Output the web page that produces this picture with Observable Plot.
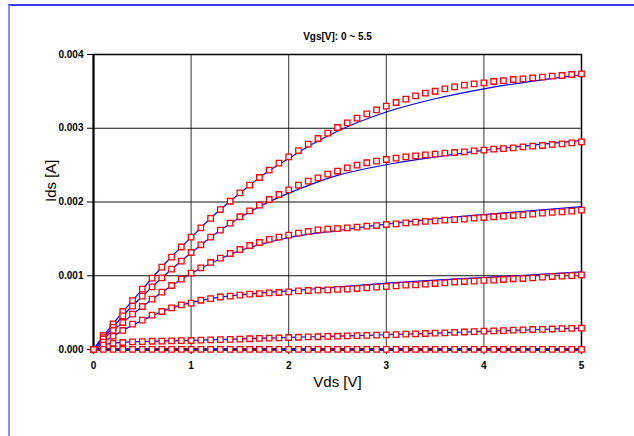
<!DOCTYPE html>
<html>
<head>
<meta charset="utf-8">
<script src="https://cdn.jsdelivr.net/npm/d3@7"></script>
<script src="https://cdn.jsdelivr.net/npm/@observablehq/plot@0.6"></script>
<style>
  html, body { margin: 0; padding: 0; background: #fff; }
  #wrap { position: relative; width: 634px; height: 436px; overflow: hidden; }
  #border { position: absolute; left: 8px; top: 4px; width: 640px; height: 440px;
            border-top: 2px solid #3a3aff; border-left: 2px solid #8c8cff; box-sizing: border-box; }
  #chart { position: absolute; left: 0; top: 0; }
</style>
</head>
<body>
<div id="wrap"><div id="border"></div><div id="chart"></div></div>
<script>
// Vds sweep [V]
const vds = [0,0.1,0.2,0.3,0.4,0.5,0.6,0.7,0.8,0.9,1.0,1.1,1.2,1.3,1.4,1.5,1.6,1.7,1.8,1.9,2.0,2.1,2.2,2.3,2.4,2.5,2.6,2.7,2.8,2.9,3.0,3.1,3.2,3.3,3.4,3.5,3.6,3.7,3.8,3.9,4.0,4.1,4.2,4.3,4.4,4.5,4.6,4.7,4.8,4.9,5.0];

// Measured Ids [mA] (red squares), one array per Vgs step
const meas1 = [0,0.19,0.348,0.515,0.664,0.818,0.967,1.116,1.252,1.39,1.523,1.65,1.778,1.898,2.01,2.125,2.228,2.332,2.431,2.526,2.613,2.698,2.784,2.861,2.933,3.01,3.074,3.137,3.196,3.25,3.299,3.349,3.394,3.44,3.475,3.502,3.535,3.562,3.584,3.603,3.616,3.634,3.647,3.661,3.67,3.684,3.692,3.706,3.715,3.729,3.738];
const meas2 = [0,0.16,0.30,0.457,0.588,0.723,0.85,0.972,1.089,1.197,1.315,1.42,1.525,1.618,1.713,1.8,1.88,1.957,2.034,2.102,2.165,2.228,2.282,2.328,2.377,2.42,2.464,2.499,2.532,2.553,2.576,2.594,2.613,2.626,2.64,2.648,2.662,2.671,2.681,2.694,2.703,2.716,2.725,2.735,2.748,2.757,2.766,2.78,2.789,2.803,2.816];
const meas3 = [0,0.14,0.258,0.366,0.479,0.583,0.682,0.777,0.868,0.953,1.035,1.108,1.18,1.238,1.302,1.356,1.41,1.451,1.492,1.523,1.55,1.577,1.6,1.623,1.631,1.638,1.65,1.659,1.672,1.681,1.695,1.704,1.718,1.727,1.736,1.745,1.753,1.761,1.767,1.78,1.79,1.8,1.808,1.817,1.826,1.835,1.848,1.858,1.867,1.876,1.889];
const meas4 = [0,0.10,0.18,0.258,0.343,0.397,0.465,0.515,0.565,0.606,0.63,0.668,0.69,0.712,0.723,0.736,0.75,0.759,0.769,0.773,0.782,0.796,0.8,0.804,0.809,0.816,0.818,0.827,0.837,0.845,0.854,0.864,0.872,0.877,0.886,0.895,0.904,0.915,0.922,0.926,0.936,0.94,0.949,0.959,0.963,0.972,0.981,0.99,0.994,1.003,1.013];
const meas5 = [0,0.06,0.085,0.095,0.104,0.108,0.112,0.114,0.117,0.12,0.122,0.126,0.13,0.135,0.138,0.142,0.146,0.15,0.154,0.158,0.163,0.166,0.17,0.173,0.177,0.18,0.184,0.188,0.191,0.195,0.199,0.203,0.208,0.212,0.217,0.221,0.226,0.231,0.237,0.242,0.248,0.252,0.257,0.262,0.266,0.271,0.274,0.278,0.282,0.286,0.289];
const meas6 = [0,0.002,0.002,0.002,0.002,0.002,0.002,0.002,0.002,0.002,0.002,0.002,0.002,0.002,0.002,0.002,0.002,0.002,0.002,0.002,0.002,0.002,0.002,0.002,0.002,0.002,0.002,0.002,0.002,0.002,0.002,0.002,0.002,0.002,0.002,0.002,0.002,0.002,0.002,0.002,0.002,0.002,0.002,0.002,0.002,0.002,0.002,0.002,0.002,0.002,0.002];

// Model Ids [mA] (blue lines)
const modelVds = [0,0.1,0.2,0.3,0.5,0.75,1,1.25,1.5,1.75,2,2.25,2.5,3,3.5,4,4.5,5];
const model1 = [0,0.18,0.345,0.51,0.815,1.19,1.52,1.84,2.12,2.38,2.59,2.79,2.96,3.22,3.40,3.535,3.64,3.725];
const model2 = [0,0.16,0.30,0.455,0.72,1.03,1.31,1.57,1.79,1.97,2.12,2.25,2.36,2.505,2.61,2.70,2.77,2.834];
const model3 = [0,0.14,0.257,0.365,0.58,0.82,1.03,1.2,1.34,1.44,1.515,1.57,1.612,1.699,1.77,1.83,1.885,1.935];
const model4 = [0,0.10,0.18,0.258,0.395,0.54,0.635,0.70,0.74,0.77,0.795,0.82,0.845,0.90,0.94,0.975,1.012,1.053];
const model5 = [0,0.06,0.085,0.097,0.108,0.116,0.124,0.133,0.143,0.153,0.164,0.173,0.182,0.20,0.222,0.246,0.268,0.29];
const model6 = [0,0.002,0.002,0.002,0.002,0.002,0.002,0.002,0.002,0.002,0.002,0.002,0.002,0.002,0.002,0.002,0.002,0.002];

const xTicks = [0,1,2,3,4,5];
const yTicks = [0,1,2,3,4];

const measSeries = [meas1, meas2, meas3, meas4, meas5, meas6];
const modelSeries = [model1, model2, model3, model4, model5, model6];
const measured = measSeries.flatMap((arr, s) => arr.map((v, i) => ({s, x: vds[i], y: v})));
const model = modelSeries.flatMap((arr, s) => arr.map((v, i) => ({s, x: modelVds[i], y: v})));

const chart = Plot.plot({
  width: 634,
  height: 436,
  marginLeft: 93,
  marginRight: 53,
  marginTop: 54,
  marginBottom: 87,
  style: {fontFamily: "'Liberation Sans', Arial, sans-serif", background: "transparent"},
  x: {domain: [0, 5], label: null},
  y: {domain: [0, 4], label: null},
  marks: [
    Plot.gridX([1,2,3,4], {stroke: "#333", strokeOpacity: 1, strokeWidth: 1}),
    Plot.gridY([1,2,3], {stroke: "#111", strokeOpacity: 1, strokeWidth: 1}),
    Plot.frame({stroke: "#000", strokeWidth: 1.5}),
    Plot.ruleY([0], {stroke: "#000", strokeWidth: 2.5}),
    Plot.ruleX([0], {stroke: "#000", strokeWidth: 2}),
    Plot.axisX(xTicks, {tickSize: 5, tickPadding: 7, tickFormat: d => String(d), fontWeight: "bold", fontSize: 10, stroke: "#000", color: "#000"}),
    Plot.axisY(yTicks, {tickSize: 6, tickPadding: 4, tickFormat: d => (d / 1000).toFixed(3), fontWeight: "bold", fontSize: 10, color: "#000"}),
    Plot.line(model, {x: "x", y: "y", z: "s", stroke: "#0000ff", strokeWidth: 1.2, curve: "monotone-x"}),
    Plot.dot(measured, {x: "x", y: "y", symbol: "square", r: 3.1, stroke: "#ff0000", strokeWidth: 1.3, fill: "white"}),
    Plot.text(["Vgs[V]: 0 ~ 5.5"], {frameAnchor: "top", dy: -22, fontWeight: "bold", fontSize: 10, fill: "#000"}),
    Plot.text(["Vds [V]"], {frameAnchor: "bottom", dy: 37, fontSize: 15, fill: "#000"}),
    Plot.text(["Ids [A]"], {frameAnchor: "left", dx: -42, rotate: -90, fontSize: 15, fill: "#000"})
  ]
});
document.getElementById("chart").appendChild(chart);
</script>
</body>
</html>
